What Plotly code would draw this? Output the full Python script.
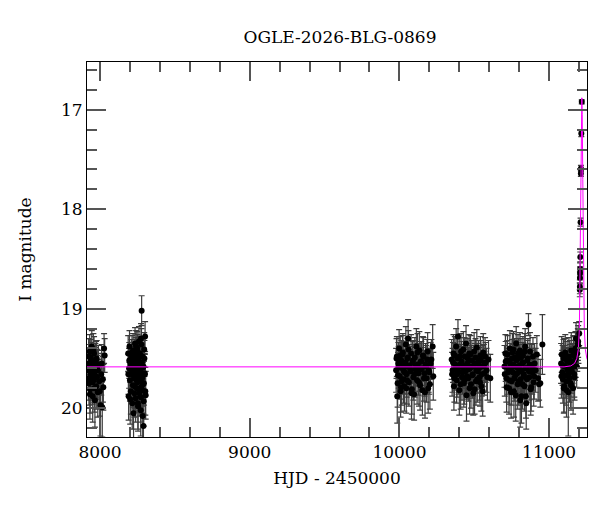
import plotly.graph_objects as go

# ── photometry (HJD - 2450000, I mag, error) ──
hjd_s1 = [7921, 7924, 7926, 7929, 7931, 7934, 7937, 7940, 7942, 7945,
          7948, 7951, 7954, 7957, 7960, 7963, 7966, 7969, 7972, 7975,
          7978, 7981, 7985, 7989, 7994, 8003, 8008, 8015, 8022, 8027, 8031,
          7922.5, 7927.5, 7932.5, 7938.5, 7943.5, 7949.5, 7955.5, 7961.5, 7967.5, 7973.5,
          7979.5, 7986.5, 7998, 8011, 8019]
mag_s1 = [19.62, 19.48, 19.75, 19.55, 19.43, 19.81, 19.66, 19.52, 19.70, 19.38,
          19.60, 19.88, 19.57, 19.72, 19.45, 19.64, 19.92, 19.53, 19.68, 19.78,
          19.50, 19.61, 19.84, 19.56, 19.73, 19.97, 19.66, 19.99, 19.79, 19.40, 19.47,
          19.70, 19.58, 19.86, 19.49, 19.63, 19.74, 19.42, 19.80, 19.59, 19.51,
          19.69, 19.62, 19.83, 19.55, 19.71]
err_s1 = [0.20, 0.18, 0.22, 0.19, 0.17, 0.24, 0.21, 0.18, 0.22, 0.16,
          0.20, 0.26, 0.19, 0.22, 0.17, 0.21, 0.27, 0.18, 0.21, 0.23,
          0.18, 0.20, 0.25, 0.19, 0.22, 0.31, 0.21, 0.30, 0.23, 0.15, 0.17,
          0.22, 0.19, 0.25, 0.18, 0.21, 0.22, 0.17, 0.24, 0.20, 0.18,
          0.22, 0.20, 0.25, 0.19, 0.23]

hjd_s2 = [8188, 8191, 8194, 8197, 8200, 8203, 8206, 8209, 8212, 8215,
          8218, 8221, 8224, 8227, 8230, 8232, 8234, 8236, 8238, 8240,
          8242, 8244, 8246, 8248, 8250, 8252, 8254, 8256, 8258, 8260,
          8262, 8264, 8266, 8268, 8270, 8272, 8274, 8276, 8278, 8280,
          8282, 8284, 8286, 8288, 8290, 8292, 8295, 8298, 8301, 8305,
          8189.5, 8195.5, 8201.5, 8207.5, 8213.5, 8219.5, 8225.5, 8229, 8233, 8237,
          8241, 8245, 8249, 8253, 8257, 8261, 8265, 8269, 8273, 8277,
          8281, 8285, 8289, 8293, 8296.5, 8299.5, 8302.5, 8250.5, 8263.5, 8275]
mag_s2 = [19.45, 19.88, 19.60, 19.38, 19.72, 19.55, 19.83, 19.49, 19.66, 19.95,
          19.58, 19.42, 20.05, 19.70, 19.52, 19.78, 19.35, 19.63, 19.90, 19.47,
          19.68, 19.56, 19.80, 19.40, 19.74, 19.61, 19.98, 19.50, 19.67, 19.33,
          19.85, 19.57, 19.45, 19.73, 19.62, 20.02, 19.30, 19.69, 19.02, 19.54,
          19.82, 19.48, 19.76, 19.59, 20.18, 19.93, 19.41, 19.65, 19.28, 19.87,
          19.66, 19.52, 19.91, 19.61, 19.44, 19.77, 19.57, 19.85, 19.49, 19.68,
          19.38, 19.72, 19.60, 19.95, 19.54, 19.81, 19.46, 19.64, 19.89, 19.36,
          19.70, 20.08, 19.58, 19.75, 19.50, 19.66, 19.83, 19.43, 19.62, 19.79]
err_s2 = [0.18, 0.24, 0.20, 0.16, 0.21, 0.19, 0.23, 0.18, 0.20, 0.26,
          0.19, 0.17, 0.25, 0.21, 0.18, 0.22, 0.16, 0.20, 0.24, 0.18,
          0.21, 0.19, 0.23, 0.17, 0.22, 0.20, 0.25, 0.18, 0.20, 0.15,
          0.23, 0.19, 0.17, 0.21, 0.20, 0.26, 0.15, 0.21, 0.15, 0.19,
          0.23, 0.18, 0.22, 0.20, 0.12, 0.25, 0.17, 0.20, 0.15, 0.24,
          0.20, 0.18, 0.25, 0.20, 0.17, 0.22, 0.19, 0.24, 0.18, 0.21,
          0.16, 0.22, 0.20, 0.26, 0.19, 0.23, 0.17, 0.20, 0.25, 0.16,
          0.21, 0.27, 0.19, 0.22, 0.18, 0.20, 0.24, 0.17, 0.20, 0.23]

hjd_s3 = [9978, 9983, 9988, 9993, 9998, 10003, 10008, 10013, 10018, 10023,
          10028, 10033, 10038, 10043, 10048, 10053, 10058, 10063, 10068, 10073,
          10078, 10083, 10088, 10093, 10098, 10103, 10108, 10113, 10118, 10123,
          10128, 10133, 10138, 10143, 10150, 10157, 10164, 10171, 10178, 10185,
          10192, 10199, 10208, 10222, 10226,
          9980.5, 9990.5, 10000.5, 10010.5, 10020.5, 10030.5, 10040.5, 10050.5, 10060.5, 10070.5,
          10080.5, 10090.5, 10100.5, 10110.5, 10120.5, 10130.5, 10140.5, 10146.5, 10153.5, 10160.5,
          10167.5, 10174.5, 10181.5, 10188.5, 10195.5, 10203.5, 10213.5, 9985.5, 9995.5, 10005.5,
          10015.5, 10025.5, 10035.5, 10045.5, 10055.5]
mag_s3 = [19.62, 19.48, 19.75, 19.55, 19.40, 19.68, 19.83, 19.52, 19.60, 19.44,
          19.71, 19.78, 19.58, 19.36, 19.66, 19.50, 19.30, 19.74, 19.57, 19.63,
          19.45, 19.81, 19.54, 19.69, 19.86, 19.49, 19.61, 19.38, 19.72, 19.56,
          19.65, 19.42, 19.77, 19.53, 19.60, 19.47, 19.70, 19.84, 19.58, 19.51,
          19.80, 19.64, 19.55, 19.38, 19.68,
          19.50, 19.67, 19.58, 19.79, 19.46, 19.63, 19.54, 19.72, 19.41, 19.60,
          19.85, 19.52, 19.66, 19.57, 19.44, 19.74, 19.61, 19.53, 19.82, 19.48,
          19.65, 19.56, 19.70, 19.43, 19.62, 19.76, 19.51, 19.88, 19.59, 19.47,
          19.73, 19.55, 19.64, 19.80, 19.49]
err_s3 = [0.22, 0.20, 0.24, 0.21, 0.19, 0.23, 0.26, 0.20, 0.22, 0.19,
          0.24, 0.25, 0.21, 0.18, 0.23, 0.20, 0.19, 0.24, 0.21, 0.22,
          0.19, 0.25, 0.21, 0.23, 0.26, 0.20, 0.22, 0.18, 0.24, 0.21,
          0.22, 0.19, 0.25, 0.20, 0.21, 0.19, 0.23, 0.26, 0.21, 0.20,
          0.25, 0.22, 0.21, 0.22, 0.24,
          0.20, 0.23, 0.21, 0.25, 0.19, 0.22, 0.21, 0.24, 0.19, 0.22,
          0.26, 0.20, 0.23, 0.21, 0.19, 0.24, 0.22, 0.20, 0.25, 0.19,
          0.23, 0.21, 0.24, 0.19, 0.22, 0.25, 0.20, 0.27, 0.21, 0.19,
          0.24, 0.21, 0.22, 0.25, 0.20]

hjd_s4 = [10349, 10355, 10361, 10367, 10373, 10379, 10385, 10391, 10397, 10403,
          10409, 10415, 10421, 10427, 10433, 10439, 10445, 10451, 10457, 10463,
          10469, 10475, 10481, 10487, 10493, 10499, 10505, 10511, 10517, 10523,
          10529, 10535, 10541, 10547, 10553, 10560, 10568, 10576, 10595, 10607,
          10352, 10358, 10364, 10370, 10376, 10382, 10388, 10394, 10400, 10406,
          10412, 10418, 10424, 10430, 10436, 10442, 10448, 10454, 10460, 10466,
          10472, 10478, 10484, 10490, 10496, 10502, 10508, 10514, 10520, 10526,
          10532, 10538, 10544, 10550, 10556, 10564, 10572, 10582, 10588]
mag_s4 = [19.51, 19.62, 19.45, 19.70, 19.56, 19.38, 19.66, 19.28, 19.59, 19.48,
          19.76, 19.53, 19.64, 19.41, 19.72, 19.57, 19.35, 19.68, 19.50, 19.61,
          19.80, 19.46, 19.58, 19.67, 19.85, 19.43, 19.55, 19.73, 19.39, 19.63,
          19.52, 19.69, 19.47, 19.78, 19.58, 19.44, 19.65, 19.54, 19.51, 19.70,
          19.66, 19.54, 19.78, 19.47, 19.61, 19.72, 19.50, 19.64, 19.82, 19.56,
          19.43, 19.69, 19.59, 19.75, 19.48, 19.63, 19.87, 19.55, 19.70, 19.45,
          19.60, 19.76, 19.52, 19.66, 19.58, 19.81, 19.49, 19.62, 19.71, 19.55,
          19.60, 19.74, 19.52, 19.66, 19.83, 19.57, 19.48, 19.62, 19.69]
err_s4 = [0.20, 0.22, 0.19, 0.24, 0.21, 0.18, 0.23, 0.17, 0.21, 0.19,
          0.25, 0.20, 0.22, 0.18, 0.24, 0.21, 0.18, 0.23, 0.20, 0.22,
          0.26, 0.19, 0.21, 0.23, 0.22, 0.19, 0.20, 0.24, 0.18, 0.22,
          0.20, 0.23, 0.19, 0.25, 0.21, 0.19, 0.22, 0.20, 0.19, 0.24,
          0.22, 0.20, 0.24, 0.19, 0.21, 0.23, 0.20, 0.22, 0.25, 0.20,
          0.18, 0.23, 0.21, 0.24, 0.19, 0.22, 0.26, 0.20, 0.23, 0.19,
          0.21, 0.24, 0.20, 0.22, 0.21, 0.25, 0.19, 0.22, 0.23, 0.20,
          0.21, 0.24, 0.20, 0.22, 0.25, 0.21, 0.19, 0.22, 0.23]

hjd_s5 = [10702, 10708, 10714, 10720, 10726, 10732, 10738, 10744, 10750, 10755,
          10760, 10765, 10770, 10775, 10780, 10785, 10790, 10795, 10800, 10805,
          10810, 10815, 10820, 10825, 10830, 10835, 10840, 10845, 10850, 10855,
          10862, 10867, 10872, 10877, 10882, 10887, 10892, 10897, 10903, 10910,
          10918, 10926, 10933, 10941, 10955,
          10704, 10710, 10716, 10722, 10728, 10734, 10740, 10746, 10752, 10757,
          10762, 10767, 10772, 10777, 10782, 10787, 10792, 10797, 10802, 10807,
          10812, 10817, 10822, 10827, 10832, 10837, 10842, 10847, 10852, 10858,
          10865, 10870, 10880, 10890, 10900]
mag_s5 = [19.58, 19.45, 19.70, 19.52, 19.64, 19.80, 19.40, 19.61, 19.73, 19.44,
          19.56, 19.83, 19.49, 19.67, 19.35, 19.59, 19.76, 19.50, 19.63, 19.42,
          19.71, 19.88, 19.55, 19.47, 19.66, 19.78, 19.38, 19.88, 19.60, 19.52,
          19.16, 19.69, 19.43, 19.81, 19.57, 19.64, 19.48, 19.74, 19.55, 19.62,
          19.46, 19.70, 19.76, 19.75, 19.36,
          19.66, 19.53, 19.79, 19.46, 19.61, 19.72, 19.55, 19.84, 19.50, 19.64,
          19.41, 19.70, 19.58, 19.87, 19.52, 19.65, 19.45, 19.73, 19.57, 19.92,
          19.49, 19.62, 19.76, 19.54, 19.68, 19.43, 19.60, 19.95, 19.71, 19.50,
          19.63, 19.56, 19.79, 19.61, 19.68]
err_s5 = [0.21, 0.19, 0.24, 0.20, 0.22, 0.26, 0.18, 0.21, 0.24, 0.19,
          0.20, 0.26, 0.19, 0.23, 0.17, 0.21, 0.25, 0.20, 0.22, 0.18,
          0.24, 0.27, 0.21, 0.19, 0.23, 0.25, 0.18, 0.22, 0.21, 0.20,
          0.11, 0.23, 0.19, 0.26, 0.21, 0.22, 0.19, 0.24, 0.20, 0.22,
          0.19, 0.23, 0.16, 0.24, 0.30,
          0.22, 0.20, 0.25, 0.19, 0.21, 0.24, 0.20, 0.26, 0.19, 0.22,
          0.18, 0.23, 0.21, 0.26, 0.20, 0.22, 0.19, 0.24, 0.21, 0.27,
          0.19, 0.22, 0.25, 0.20, 0.23, 0.18, 0.21, 0.26, 0.23, 0.20,
          0.22, 0.21, 0.24, 0.21, 0.23]

hjd_s6 = [11080, 11084, 11088, 11092, 11096, 11100, 11104, 11108, 11112, 11116,
          11120, 11124, 11128, 11132, 11136, 11140, 11144, 11148, 11152, 11156,
          11160, 11164, 11168, 11172, 11176, 11180, 11184, 11188, 11192, 11196,
          11082, 11090, 11098, 11106, 11114, 11122, 11130, 11138, 11146, 11154,
          11162, 11170, 11178, 11186, 11194]
mag_s6 = [19.55, 19.46, 19.64, 19.71, 19.50, 19.78, 19.58, 19.44, 19.67, 19.82,
          19.53, 19.62, 19.84, 19.48, 19.70, 19.57, 19.75, 19.42, 19.63, 19.55,
          19.80, 19.47, 19.66, 19.52, 19.40, 19.30, 19.58, 19.45, 19.36, 19.38,
          19.68, 19.57, 19.80, 19.49, 19.73, 19.60, 19.66, 19.52, 19.77, 19.59,
          19.45, 19.69, 19.50, 19.41, 19.33]
err_s6 = [0.20, 0.18, 0.22, 0.24, 0.19, 0.26, 0.21, 0.18, 0.23, 0.27,
          0.20, 0.22, 0.44, 0.19, 0.24, 0.21, 0.25, 0.18, 0.22, 0.20,
          0.26, 0.19, 0.23, 0.20, 0.17, 0.16, 0.21, 0.18, 0.16, 0.17,
          0.22, 0.20, 0.25, 0.19, 0.24, 0.21, 0.22, 0.20, 0.25, 0.21,
          0.18, 0.23, 0.19, 0.17, 0.16]

# rising part of the event
hjd_ev = [11201, 11205, 11205.5, 11206, 11206.5, 11207, 11208, 11210, 11212, 11212.5, 11215, 11218]
mag_ev = [19.25, 18.81, 18.78, 18.69, 18.64, 18.60, 18.48, 18.13, 17.64, 17.59, 17.24, 16.92]
err_ev = [0.12, 0.07, 0.07, 0.06, 0.06, 0.06, 0.05, 0.04, 0.03, 0.03, 0.03, 0.02]

# microlensing model curve (magenta)
model_hjd = [7900, 11100, 11145, 11170, 11185, 11195, 11202, 11208, 11212, 11216,
             11218.5, 11221, 11225, 11229, 11235, 11242, 11252, 11267]
model_mag = [19.585, 19.585, 19.575, 19.55, 19.50, 19.41, 19.20, 18.50, 17.70, 17.05,
             16.88, 17.05, 17.70, 18.50, 19.20, 19.41, 19.50, 19.55]

hjd = hjd_s1 + hjd_s2 + hjd_s3 + hjd_s4 + hjd_s5 + hjd_s6 + hjd_ev
mag = mag_s1 + mag_s2 + mag_s3 + mag_s4 + mag_s5 + mag_s6 + mag_ev
err = err_s1 + err_s2 + err_s3 + err_s4 + err_s5 + err_s6 + err_ev

FONT = 'DejaVu Serif'
FSIZE = 17
TICK_COL = '#555555'

fig = go.Figure()

fig.add_trace(go.Scatter(
    x=hjd, y=mag,
    mode='markers',
    marker=dict(color='black', size=6),
    error_y=dict(type='data', array=err, visible=True,
                 color='#3c3c3c', thickness=1.2, width=3),
    hoverinfo='x+y',
))

fig.add_trace(go.Scatter(
    x=model_hjd, y=model_mag,
    mode='lines',
    line=dict(color='#ff00ff', width=1),
    hoverinfo='skip',
))

axis_common = dict(
    showgrid=False, zeroline=False,
    showline=True, linecolor='black', linewidth=1,
    mirror='allticks',
    ticks='inside', ticklen=19, tickwidth=1.5, tickcolor=TICK_COL,
    tickfont=dict(family=FONT, size=FSIZE, color='black'),
    tickformat='d',
)

# page body has an 8px margin, so the figure is drawn 8px smaller
fig.update_layout(
    width=592, height=504,
    margin=dict(l=79, r=13, t=54, b=75),
    paper_bgcolor='white', plot_bgcolor='white',
    showlegend=False,
    font=dict(family=FONT, size=FSIZE, color='black'),
    title=dict(text='OGLE-2026-BLG-0869', x=332 / 592, xanchor='center',
               y=1 - 29 / 504, yanchor='middle', yref='container',
               font=dict(family=FONT, size=FSIZE)),
    xaxis=dict(
        axis_common,
        range=[7913, 11253], tick0=0, dtick=1000,
        minor=dict(dtick=200, ticks='inside', ticklen=10, tickwidth=1.5, tickcolor=TICK_COL),
        title=dict(text='HJD - 2450000', font=dict(family=FONT, size=FSIZE), standoff=10),
    ),
    yaxis=dict(
        axis_common,
        range=[20.29, 16.52], tick0=0, dtick=1,
        minor=dict(dtick=0.2, ticks='inside', ticklen=10, tickwidth=1.5, tickcolor=TICK_COL),
        title=dict(text='I magnitude', font=dict(family=FONT, size=FSIZE), standoff=25),
    ),
)

fig.write_html('out.html')
